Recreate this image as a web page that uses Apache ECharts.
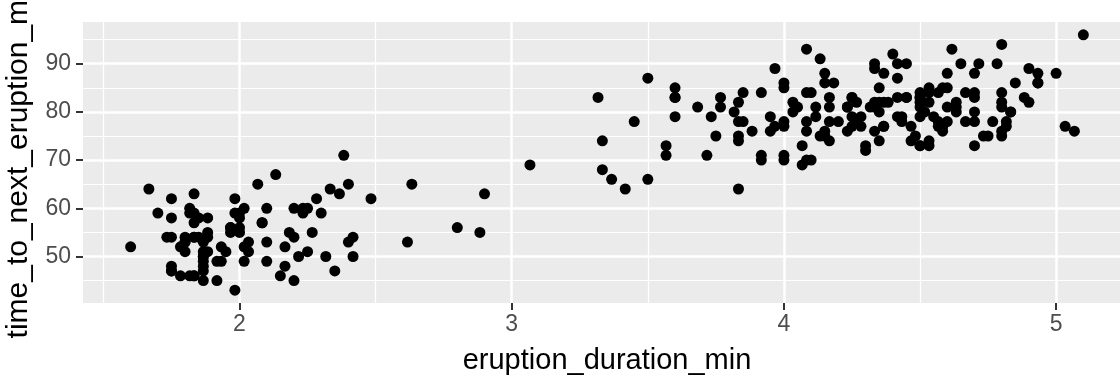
<!DOCTYPE html>
<html>
<head>
<meta charset="utf-8">
<script src="https://cdn.jsdelivr.net/npm/echarts@6/dist/echarts.min.js"></script>
<style>
html,body{margin:0;padding:0;background:#fff;}
#chart{width:1120px;height:377px;}
</style>
</head>
<body>
<div id="chart"></div>
<script>
const eruptions = [3.600,1.800,3.333,2.283,4.533,2.883,4.700,3.600,1.950,4.350,1.833,3.917,4.200,1.750,4.700,2.167,1.750,4.800,1.600,4.250,1.800,1.750,3.450,3.067,4.533,3.600,1.967,4.083,3.850,4.433,4.300,4.467,3.367,4.033,3.833,2.017,1.867,4.833,1.833,4.783,4.350,1.883,4.567,1.750,4.533,3.317,3.833,2.100,4.633,2.000,4.800,4.716,1.833,4.833,1.733,4.883,3.717,1.667,4.567,4.317,2.233,4.500,1.750,4.800,1.817,4.400,4.167,4.700,2.067,4.700,4.033,1.967,4.500,4.000,1.983,5.067,2.017,4.567,3.883,3.600,4.133,4.333,4.100,2.633,4.067,4.933,3.950,4.517,2.167,4.000,2.200,4.333,1.867,4.817,1.833,4.300,4.667,3.750,1.867,4.900,2.483,4.367,2.100,4.500,4.050,1.867,4.700,1.783,4.850,3.683,4.733,2.300,4.900,4.417,1.700,4.633,2.317,4.600,1.817,4.417,2.617,4.067,4.250,1.967,4.600,3.767,1.917,4.500,2.267,4.650,1.867,4.167,2.800,4.333,1.833,4.383,1.883,4.933,2.033,3.733,4.233,2.233,4.533,4.817,4.333,1.983,4.633,2.017,5.100,1.800,5.033,4.000,2.400,4.600,3.567,4.000,4.500,4.083,1.800,3.967,2.200,4.150,2.000,3.833,3.500,4.583,2.367,5.000,1.933,4.617,1.917,2.083,4.583,3.333,4.167,4.333,4.500,2.417,4.000,4.167,1.883,4.583,4.250,3.767,2.033,4.433,4.083,1.833,4.417,2.183,4.800,1.833,4.800,4.100,3.966,4.233,3.500,4.366,2.250,4.667,2.100,4.350,4.133,1.867,4.600,1.783,4.367,3.850,1.933,4.500,2.383,4.700,1.867,3.833,3.417,4.233,2.400,4.800,2.000,4.150,1.867,4.267,1.750,4.483,4.000,4.117,4.083,4.267,3.917,4.550,4.083,2.417,4.183,2.217,4.450,1.883,1.850,4.283,3.950,2.333,4.150,2.350,4.933,2.900,4.583,3.833,2.083,4.367,2.133,4.350,2.200,4.450,3.567,4.500,4.150,3.817,3.917,4.450,2.000,4.283,4.767,4.533,1.850,4.250,1.983,2.250,4.750,4.117,2.150,4.417,1.817,4.467];
const waiting = [79,54,74,62,85,55,88,85,51,85,54,84,78,47,83,52,62,84,52,79,51,47,78,69,74,83,55,76,78,79,73,77,66,80,74,52,48,80,59,90,80,58,84,58,73,83,64,53,82,59,75,90,54,80,54,83,71,64,77,81,59,84,48,82,60,92,78,78,65,73,82,56,79,71,62,76,60,78,76,83,75,82,70,65,73,88,76,80,48,86,60,90,50,78,63,72,84,75,51,82,62,88,49,83,81,47,84,52,86,81,75,59,89,79,59,81,50,85,59,87,53,69,77,56,88,81,45,82,55,90,45,83,56,89,46,82,51,86,53,79,81,60,82,77,76,59,80,49,96,53,77,77,65,81,71,70,81,93,53,89,45,86,58,78,66,76,63,88,52,93,49,57,77,68,81,81,73,50,85,74,55,77,83,83,51,78,84,46,83,55,81,57,76,84,77,81,87,77,51,78,60,82,91,53,78,46,77,84,49,83,71,80,49,75,64,76,53,94,55,76,50,82,54,75,78,79,78,78,70,79,70,54,86,50,90,54,54,77,79,64,75,47,86,63,85,82,57,82,67,74,54,83,73,73,88,80,71,83,56,79,78,84,58,83,43,60,75,81,46,90,46,74];
const xMajorTicks = [2, 3, 4, 5];
const xMinorTicks = [1.5, 2.5, 3.5, 4.5];
const yMajorTicks = [50, 60, 70, 80, 90];
const yMinorTicks = [45, 55, 65, 75, 85, 95];
const xTitle = 'eruption_duration_min';
const yTitle = 'time_to_next_eruption_min';

const points = eruptions.map((e, i) => [e, waiting[i]]);
const FONT = "'Liberation Sans', Arial, sans-serif";
const X_MIN = 1.425, X_MAX = 5.275, Y_MIN = 40.35, Y_MAX = 98.65;

const chart = echarts.init(document.getElementById('chart'), null, {renderer: 'canvas'});
chart.setOption({
  animation: false,
  backgroundColor: '#ffffff',
  grid: {
    left: 83, top: 22, right: -11, bottom: 74,
    show: true, backgroundColor: '#EBEBEB', borderWidth: 0,
    containLabel: false, outerBoundsMode: 'none'
  },
  xAxis: [
    {
      type: 'value', min: X_MIN, max: X_MAX, position: 'bottom',
      name: xTitle, nameLocation: 'middle', nameGap: 43,
      nameTextStyle: {color: '#000', fontSize: 29, fontFamily: FONT},
      axisLine: {show: false},
      axisTick: {show: true, customValues: xMajorTicks, length: 7, lineStyle: {color: '#333333', width: 2}},
      axisLabel: {show: true, customValues: xMajorTicks, margin: 10, color: '#4D4D4D', fontSize: 23, fontFamily: FONT},
      splitLine: {show: true, lineStyle: {color: '#ffffff', width: 2.5}}
    },
    {
      type: 'value', min: X_MIN, max: X_MAX, position: 'bottom',
      axisLine: {show: false},
      axisTick: {show: false, customValues: xMinorTicks},
      axisLabel: {show: false, customValues: xMinorTicks},
      splitLine: {show: true, lineStyle: {color: '#ffffff', width: 1.2}}
    }
  ],
  yAxis: [
    {
      type: 'value', min: Y_MIN, max: Y_MAX, position: 'left',
      name: yTitle, nameLocation: 'middle', nameGap: 49,
      nameTextStyle: {color: '#000', fontSize: 30, fontFamily: FONT, padding: [0, 0, 0, 10]},
      axisLine: {show: false},
      axisTick: {show: true, customValues: yMajorTicks, length: 7, lineStyle: {color: '#333333', width: 2}},
      axisLabel: {show: true, customValues: yMajorTicks, margin: 12, color: '#4D4D4D', fontSize: 23, fontFamily: FONT},
      splitLine: {show: true, lineStyle: {color: '#ffffff', width: 2.5}}
    },
    {
      type: 'value', min: Y_MIN, max: Y_MAX, position: 'left',
      axisLine: {show: false},
      axisTick: {show: false, customValues: yMinorTicks},
      axisLabel: {show: false, customValues: yMinorTicks},
      splitLine: {show: true, lineStyle: {color: '#ffffff', width: 1.2}}
    }
  ],
  series: [{
    type: 'scatter',
    xAxisIndex: 0, yAxisIndex: 0,
    data: points,
    symbol: 'circle',
    symbolSize: 11,
    itemStyle: {color: '#000000', opacity: 1},
    emphasis: {disabled: true},
    silent: true
  }]
});
</script>
</body>
</html>
